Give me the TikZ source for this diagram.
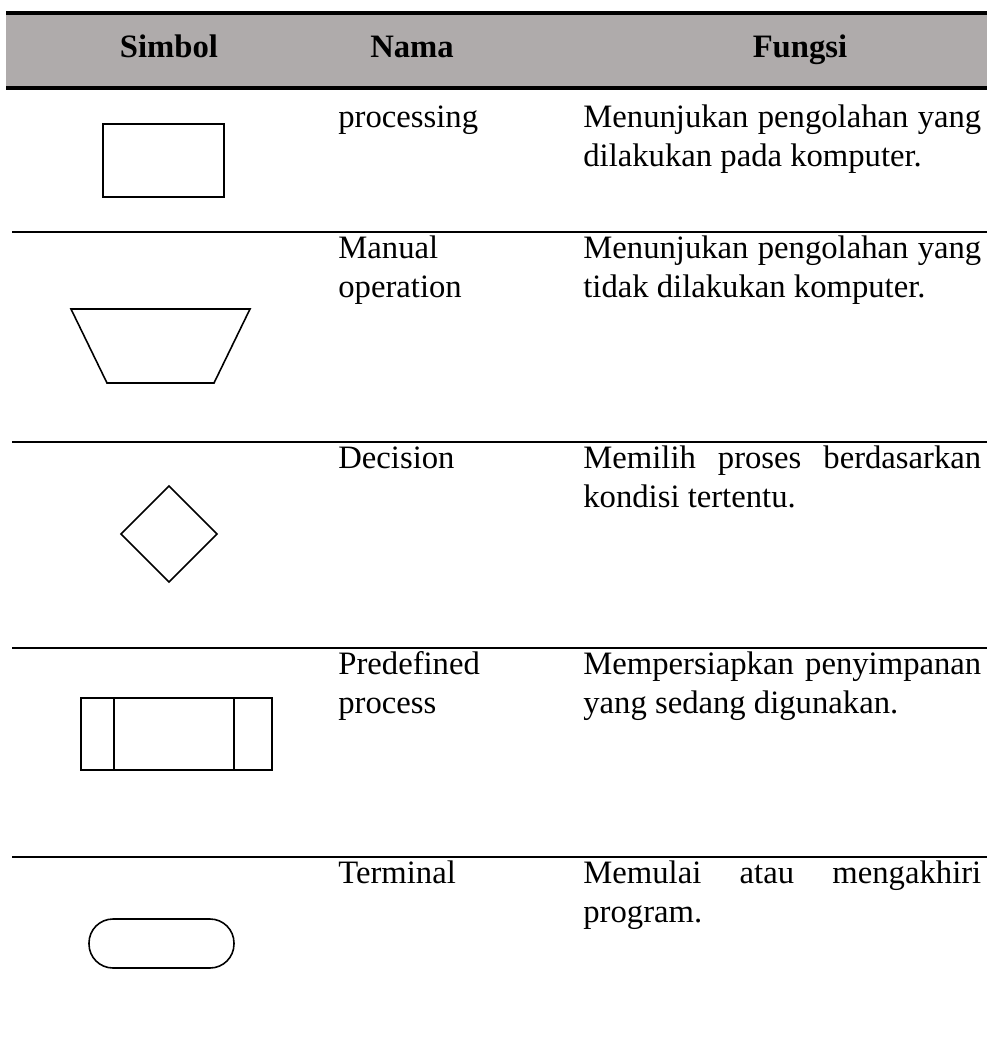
\documentclass[tikz,border=0pt]{standalone}
\usepackage{fontspec}
\setmainfont{Liberation Serif}
\definecolor{headgray}{RGB}{175,171,171}

\begin{document}
\begin{tikzpicture}[x=0.02cm,y=-0.02cm]
\tikzset{every node/.style={inner sep=0pt, font=\fontsize{18.6}{22.6}\selectfont},
  head/.style={anchor=base, font=\fontsize{18.6}{22.6}\selectfont\bfseries},
  namecol/.style={anchor=base west, text width=4.6cm, align=left},
  funcol/.style={anchor=base west, text width=7.96cm, align=justify},
  sym/.style={draw=black, line width=0.9pt},
  rowline/.style={draw=black, line width=1.2pt},
  headline/.style={draw=black, line width=2.2pt}}
\useasboundingbox (0,0) rectangle (987,1039);
% header
\fill [headgray] (6,13) rectangle (987,88);
\draw [headline] (6,13) -- (987,13);
\draw [headline] (6,88) -- (987,88);
\node [head] (hsim) at (169,57) {Simbol};
\node [head] (hnam) at (412,57) {Nama};
\node [head] (hfun) at (800,57) {Fungsi};
% row lines
\foreach \y in {232,442,648,857}
  \draw [rowline] (12,\y) -- (987,\y);
% processing
\draw [sym] (103,124) rectangle (224,197);
\node [namecol] (nproc) at (338,127) {processing};
\node [funcol] (fproc) at (583,127) {Menunjukan pengolahan yang\linebreak dilakukan pada komputer.};
% manual operation
\draw [sym] (71,309) -- (250,309) -- (214,383) -- (107,383) -- cycle;
\node [namecol] (nman) at (338,258) {Manual\\operation};
\node [funcol] (fman) at (583,258) {Menunjukan pengolahan yang\linebreak tidak dilakukan komputer.};
% decision
\draw [sym] (169,486) -- (217,534) -- (169,582) -- (121,534) -- cycle;
\node [namecol] (ndec) at (338,468) {Decision};
\node [funcol] (fdec) at (583,468) {Memilih proses berdasarkan\linebreak kondisi tertentu.};
% predefined process
\draw [sym] (81,698) rectangle (272,770);
\draw [sym] (114,698) -- (114,770) (234,698) -- (234,770);
\node [namecol] (npre) at (338,674) {Predefined\\process};
\node [funcol] (fpre) at (583,674) {Mempersiapkan penyimpanan\linebreak yang sedang digunakan.};
% terminal
\draw [sym, rounded corners=0.48cm] (89,919) rectangle (234,968);
\node [namecol] (nter) at (338,883) {Terminal};
\node [funcol] (fter) at (583,883) {Memulai atau mengakhiri\linebreak program.};
\end{tikzpicture}
\end{document}
